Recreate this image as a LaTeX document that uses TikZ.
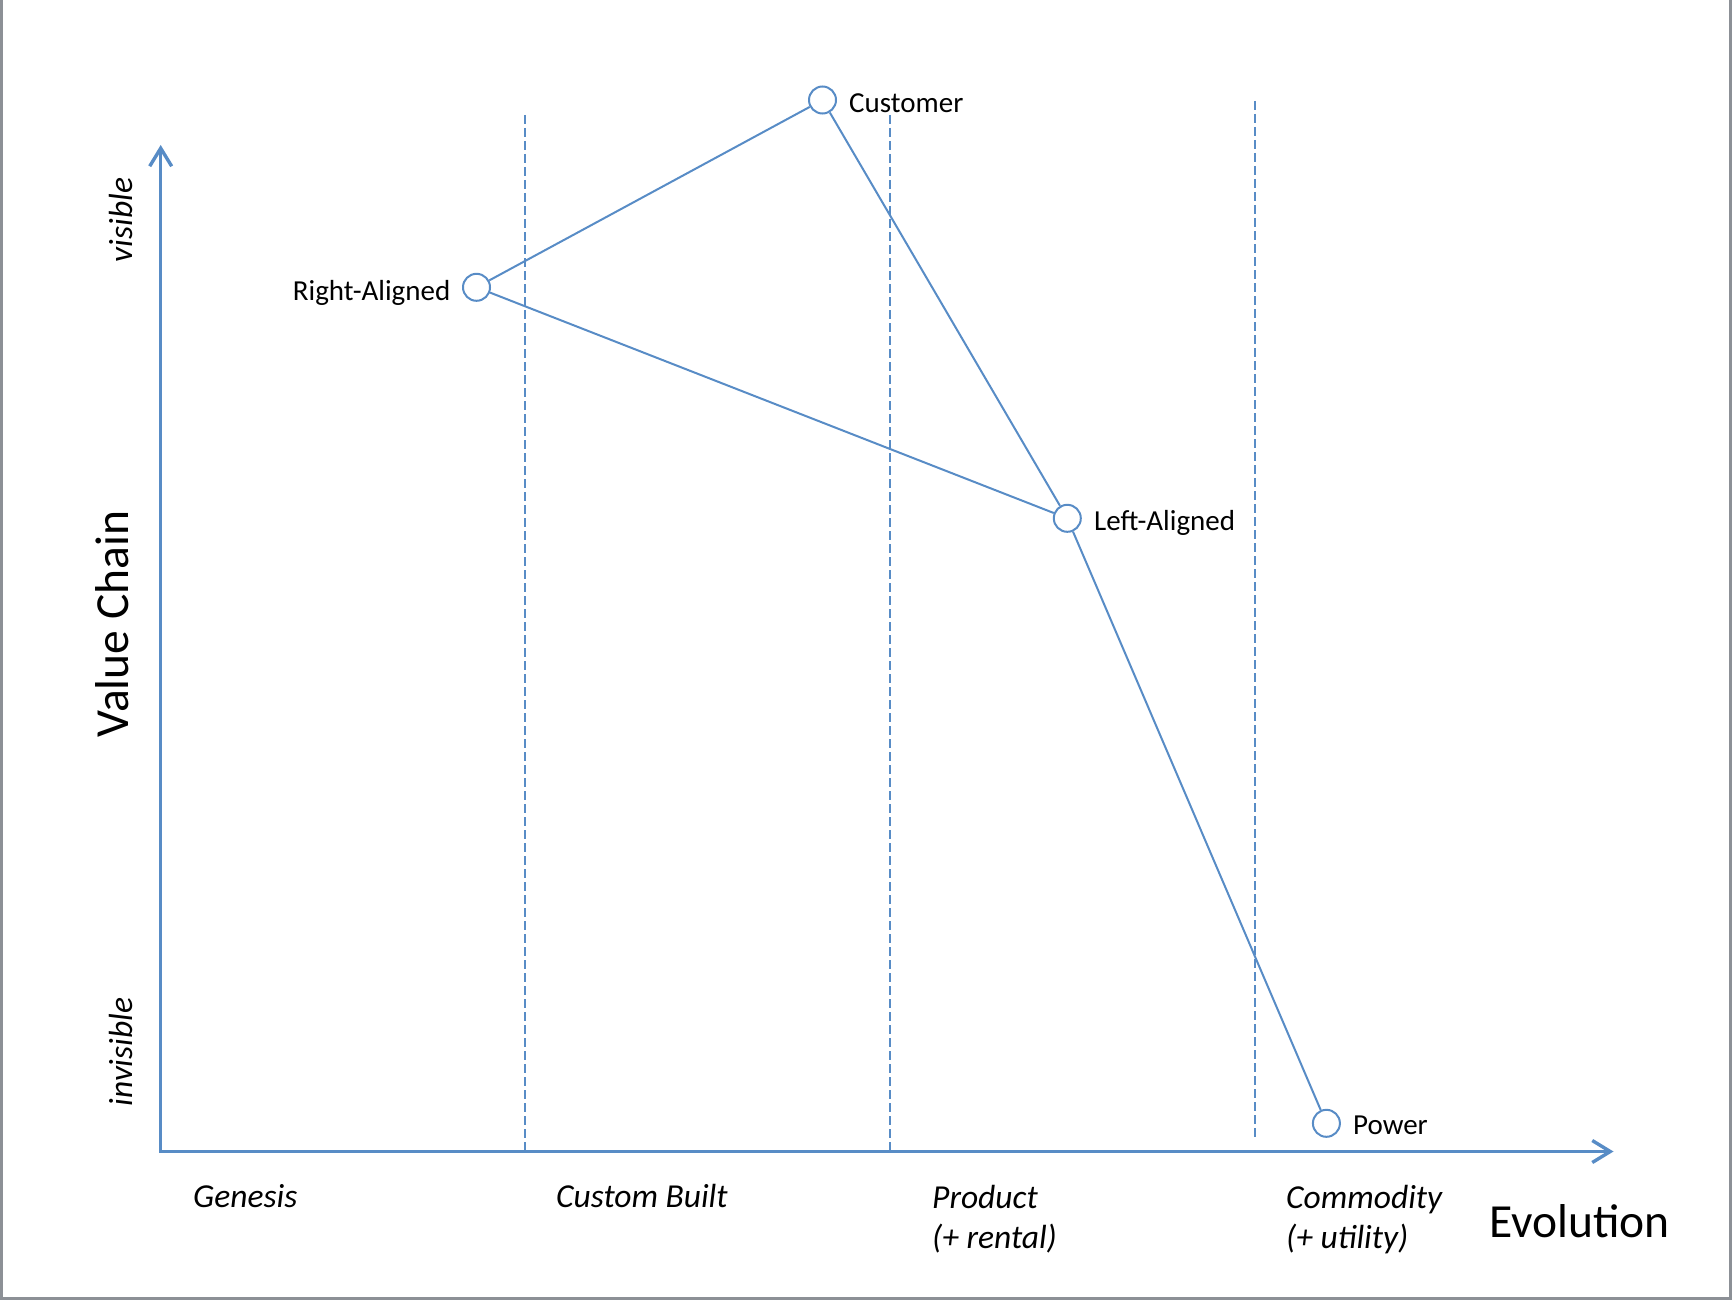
\documentclass[tikz,border=0pt]{standalone}
\usepackage{fontspec}
\setmainfont{Carlito}
\usetikzlibrary{arrows.meta}
\definecolor{mapblue}{RGB}{88,140,198}
\definecolor{framegray}{RGB}{140,144,150}
\tikzset{
  axisline/.style={draw=mapblue, line width=3.4pt},
  phase/.style={draw=mapblue, line width=2pt, dash pattern=on 9pt off 4pt},
  comp/.style={circle, draw=mapblue, fill=white, line width=2pt, minimum size=27pt, inner sep=0pt},
  link/.style={draw=mapblue, line width=2pt},
  lbl/.style={inner sep=0pt, font=\fontsize{29}{34}\selectfont},
  stage/.style={inner sep=0pt, font=\fontsize{33.5}{40}\selectfont\itshape},
  big/.style={inner sep=0pt, font=\fontsize{47.5}{54}\selectfont},
}
\begin{document}
\begin{tikzpicture}[x=1pt, y=-1pt]
\useasboundingbox (0,0) rectangle (1734,1300);
% frame (left, bottom, right)
\draw[framegray, line width=3pt] (1.5,0) -- (1.5,1298.5) -- (1730.5,1298.5) -- (1730.5,0);
% phase separators
\coordinate (d1t) at (525,115);  \coordinate (d1b) at (525,1151);
\coordinate (d2t) at (890,115);  \coordinate (d2b) at (890,1151);
\coordinate (d3t) at (1255,101); \coordinate (d3b) at (1255,1137);
\draw[phase] (d1t) -- (d1b);
\draw[phase] (d2t) -- (d2b);
\draw[phase] (d3t) -- (d3b);
% axes
\coordinate (ytip) at (160.7,145);
\coordinate (O) at (160.7,1151.5);
\coordinate (xtip) at (1613.5,1151.5);
\draw[axisline, {Straight Barb[length=18pt,width=22pt]}-{Straight Barb[length=18pt,width=22pt]}] (ytip) -- (O) -- (xtip);
% components
\node[comp] (cust) at (822.5,100) {};
\node[comp] (ra) at (476.5,287.3) {};
\node[comp] (la) at (1067.3,518.3) {};
\node[comp] (pow) at (1326.4,1123.3) {};
\draw[link] (ra) -- (cust);
\draw[link] (ra) -- (la);
\draw[link] (cust) -- (la);
\draw[link] (la) -- (pow);
% component labels
\node[lbl, anchor=base west] (custl) at (849,112.7) {Customer};
\node[lbl, anchor=base east] (ral) at (450.5,300) {Right-Aligned};
\node[lbl, anchor=base west] (lal) at (1094,530) {Left-Aligned};
\node[lbl, anchor=base west] (powl) at (1353,1134) {Power};
% axis labels
\node[stage, rotate=90, anchor=base] (vis) at (132,220) {visible};
\node[stage, rotate=90, anchor=base] (invis) at (132,1052) {invisible};
\node[big, rotate=90, anchor=base] (vc) at (128,624) {Value Chain};
\node[big, anchor=base west] (evo) at (1489,1237) {Evolution};
% stages
\node[stage, anchor=base west] (gen) at (193,1207) {Genesis};
\node[stage, anchor=base west] (cb) at (556,1207) {Custom Built};
\node[stage, anchor=base west] (prod) at (932,1208) {\begin{tabular}[t]{@{}l@{}}Product\\(+ rental)\end{tabular}};
\node[stage, anchor=base west] (comm) at (1286,1208) {\begin{tabular}[t]{@{}l@{}}Commodity\\(+ utility)\end{tabular}};
\end{tikzpicture}
\end{document}
